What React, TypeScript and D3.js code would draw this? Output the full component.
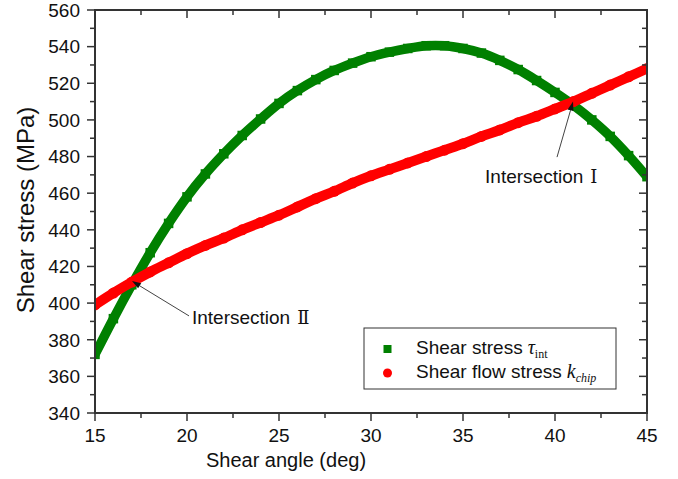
import React from 'react';
import * as d3 from 'd3';

// Shear angle (deg)
const angles = [15, 16, 17, 18, 19, 20, 21, 22, 23, 24, 25, 26, 27, 28, 29, 30, 31, 32, 33, 34, 35, 36, 37, 38, 39, 40, 41, 42, 43, 44, 45];
// Shear stress tau_int (MPa)
const shearStress = [372, 391.5, 410, 427.5, 443.5, 458, 470.5, 481.5, 491.5, 500.5, 509, 516, 522, 527, 531, 534.5, 537, 539, 540.5, 540.5, 539, 536.5, 532.5, 527.5, 521.5, 515, 508, 500, 491, 480.5, 469];
// Shear flow stress k_chip (MPa)
const flowStress = [399, 405.5, 411.5, 417, 422, 427, 431.5, 435.5, 440, 444, 448, 452.5, 457, 461, 465.5, 469.5, 473, 476.5, 480, 483.5, 487, 491, 494.5, 498.5, 502, 506, 510, 514.5, 519, 523.5, 528];

const xTicks = [15, 20, 25, 30, 35, 40, 45];
const xMinor = [17.5, 22.5, 27.5, 32.5, 37.5, 42.5];
const yTicks = [340, 360, 380, 400, 420, 440, 460, 480, 500, 520, 540, 560];
const yMinor = [350, 370, 390, 410, 430, 450, 470, 490, 510, 530, 550];

// annotations in data coordinates: [tipX, tipY, tailX, tailY, textX, textY]
const annotI = [40.98, 510, 40.11, 479.7, 36.2, 465.5];
const annotII = [17.01, 412, 20.11, 393, 20.27, 388.6];

const GREEN = '#008000';
const RED = '#ff0000';
const AXIS = '#333333';
const FONT = '"Liberation Sans", Arial, sans-serif';
const SERIF = '"Liberation Serif", "Times New Roman", serif';

export default function App() {
  const W = 678, H = 479;
  const x = d3.scaleLinear().domain([15, 45]).range([95, 647]);
  const y = d3.scaleLinear().domain([340, 560]).range([413, 10]);
  const [x0, x1] = x.range();
  const [y0, y1] = [y(340), y(560)];

  const lineG = d3.line<number>().x((_, i) => x(angles[i])).y(d => y(d)).curve(d3.curveCatmullRom.alpha(0.5));

  const arrow = (a: number[], label: string, num: string) => {
    const tx = x(a[0]), ty = y(a[1]), sx = x(a[2]), sy = y(a[3]);
    const ang = Math.atan2(ty - sy, tx - sx);
    const L = 9, Wd = 3;
    const bx = tx - L * Math.cos(ang), by = ty - L * Math.sin(ang);
    const px = -Math.sin(ang) * Wd, py = Math.cos(ang) * Wd;
    return (
      <g>
        <line x1={sx} y1={sy} x2={bx} y2={by} stroke="#444" strokeWidth={1} />
        <path d={`M${tx},${ty}L${bx + px},${by + py}L${bx - px},${by - py}Z`} fill="#111" />
        <text x={x(a[4])} y={y(a[5])} fontFamily={FONT} fontSize={19} fill="#111">
          {label}
          <tspan fontFamily={'"DejaVu Serif", "Liberation Serif", serif'} dx={7} fontSize={18}>{num}</tspan>
        </text>
      </g>
    );
  };

  return (
    <svg width={W} height={H} style={{ position: 'absolute', left: 0, top: 0, background: '#fff' }}>
      <defs>
        <clipPath id="plotclip">
          <rect x={x0} y={y1} width={x1 - x0} height={y0 - y1} />
        </clipPath>
      </defs>
      <rect x={0} y={0} width={W} height={H} fill="#fff" />

      <g clipPath="url(#plotclip)">
        <path d={lineG(shearStress) || ''} fill="none" stroke={GREEN} strokeWidth={9.5} />
        {shearStress.map((v, i) => (
          <rect key={'g' + i} x={x(angles[i]) - 4.75} y={y(v) - 4.75} width={9.5} height={9.5} fill={GREEN} />
        ))}
        <path d={lineG(flowStress) || ''} fill="none" stroke={RED} strokeWidth={10} />
        {flowStress.map((v, i) => (
          <circle key={'r' + i} cx={x(angles[i])} cy={y(v)} r={5.5} fill={RED} />
        ))}
      </g>

      {/* frame */}
      <rect x={x0} y={y1} width={x1 - x0} height={y0 - y1} fill="none" stroke={AXIS} strokeWidth={2} />

      {/* x ticks */}
      {xTicks.map(t => (
        <g key={'xt' + t}>
          <line x1={x(t)} x2={x(t)} y1={y0} y2={y0 + 8} stroke={AXIS} strokeWidth={1.5} />
          <line x1={x(t)} x2={x(t)} y1={y1} y2={y1 + 8} stroke={AXIS} strokeWidth={1.5} />
          <text x={x(t)} y={442} textAnchor="middle" fontFamily={FONT} fontSize={19} fill="#111">{t}</text>
        </g>
      ))}
      {xMinor.map(t => (
        <g key={'xm' + t}>
          <line x1={x(t)} x2={x(t)} y1={y0} y2={y0 + 5} stroke={AXIS} strokeWidth={1.5} />
          <line x1={x(t)} x2={x(t)} y1={y1} y2={y1 + 5} stroke={AXIS} strokeWidth={1.5} />
        </g>
      ))}
      {/* y ticks */}
      {yTicks.map(t => (
        <g key={'yt' + t}>
          <line x1={x0 - 8} x2={x0} y1={y(t)} y2={y(t)} stroke={AXIS} strokeWidth={1.5} />
          <line x1={x1 - 8} x2={x1} y1={y(t)} y2={y(t)} stroke={AXIS} strokeWidth={1.5} />
          <text x={80} y={y(t)} dy="0.36em" textAnchor="end" fontFamily={FONT} fontSize={19} fill="#111">{t}</text>
        </g>
      ))}
      {yMinor.map(t => (
        <g key={'ym' + t}>
          <line x1={x0 - 5} x2={x0} y1={y(t)} y2={y(t)} stroke={AXIS} strokeWidth={1.5} />
          <line x1={x1 - 5} x2={x1} y1={y(t)} y2={y(t)} stroke={AXIS} strokeWidth={1.5} />
        </g>
      ))}

      {/* axis titles */}
      <text x={286} y={467} textAnchor="middle" fontFamily={FONT} fontSize={20} fill="#111">Shear angle (deg)</text>
      <text transform={`translate(34,210) rotate(-90)`} textAnchor="middle" fontFamily={FONT} fontSize={24} fill="#111">Shear stress (MPa)</text>

      {/* annotations */}
      {arrow(annotI, 'Intersection', '\u2160')}
      {arrow(annotII, 'Intersection', '\u2161')}

      {/* legend */}
      <rect x={364} y={328} width={252} height={61} fill="#fff" stroke={AXIS} strokeWidth={1} />
      <rect x={383.5} y={345} width={8} height={8} fill={GREEN} />
      <circle cx={387.5} cy={373} r={4.5} fill={RED} />
      <text x={416} y={354} fontFamily={FONT} fontSize={19} fill="#111">
        Shear stress
        <tspan fontFamily={SERIF} fontStyle="italic" fontSize={20} dx={5}>τ</tspan>
        <tspan fontFamily={SERIF} fontSize={12} dy={4}>int</tspan>
      </text>
      <text x={416} y={378} fontFamily={FONT} fontSize={19} fill="#111">
        Shear flow stress
        <tspan fontFamily={SERIF} fontStyle="italic" fontSize={20} dx={5}>k</tspan>
        <tspan fontFamily={SERIF} fontStyle="italic" fontSize={12} dy={4}>chip</tspan>
      </text>
    </svg>
  );
}
